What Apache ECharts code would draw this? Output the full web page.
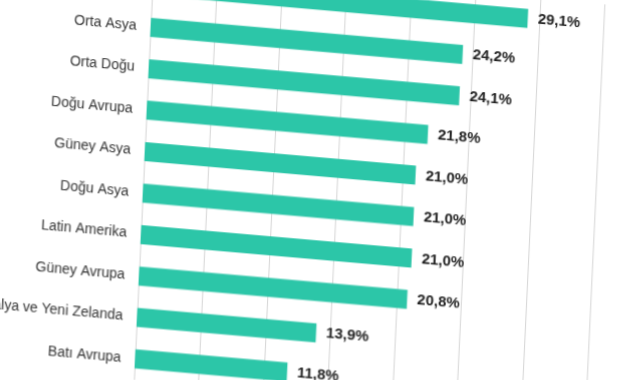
<!DOCTYPE html>
<html>
<head>
<meta charset="utf-8">
<script src="https://cdn.jsdelivr.net/npm/echarts@6/dist/echarts.min.js"></script>
<style>
html,body{margin:0;padding:0;background:#fff;overflow:hidden;width:641px;height:380px;}
#chart{position:absolute;left:0;top:0;width:700px;height:445px;transform-origin:0 0;transform:matrix(1,0.087,-0.047,1,3.8,-57);}
</style>
</head>
<body>
<div id="chart"></div>
<script>
const categories = ["Kuzey Afrika","Orta Asya","Orta Doğu","Doğu Avrupa","Güney Asya","Doğu Asya","Latin Amerika","Güney Avrupa","Avustralya ve Yeni Zelanda","Batı Avrupa"];
const values = [29.1,24.2,24.1,21.8,21.0,21.0,21.0,20.8,13.9,11.8];
const axisMin = 0, axisMax = 35, axisStep = 5;

const chart = echarts.init(document.getElementById('chart'), null, {renderer:'canvas'});
chart.setOption({
  animation:false,
  backgroundColor:'#fff',
  grid:{left:150, top:9, width:451.5, height:414.5, containLabel:false, outerBoundsMode:'none'},
  xAxis:{type:'value', min:axisMin, max:axisMax, interval:axisStep,
    axisLabel:{show:false}, axisLine:{show:false}, axisTick:{show:false},
    splitLine:{show:true, lineStyle:{color:'#d6d6d6', width:1}}},
  yAxis:{type:'category', data:categories, inverse:true,
    axisLine:{show:true, lineStyle:{color:'#d6d6d6', width:1}},
    axisTick:{show:false},
    axisLabel:{fontFamily:'Liberation Sans, Arial, sans-serif', fontSize:14, color:'#333333', margin:14}},
  series:[{type:'bar', data:values, barWidth:19,
    itemStyle:{color:'#2cc6a8'},
    label:{show:true, position:'right', distance:10,
      fontFamily:'Liberation Sans, Arial, sans-serif', fontSize:15, fontWeight:'bold', color:'#222222',
      formatter:p=>p.value.toFixed(1).replace('.',',')+'%'}}]
});
</script>
</body>
</html>
